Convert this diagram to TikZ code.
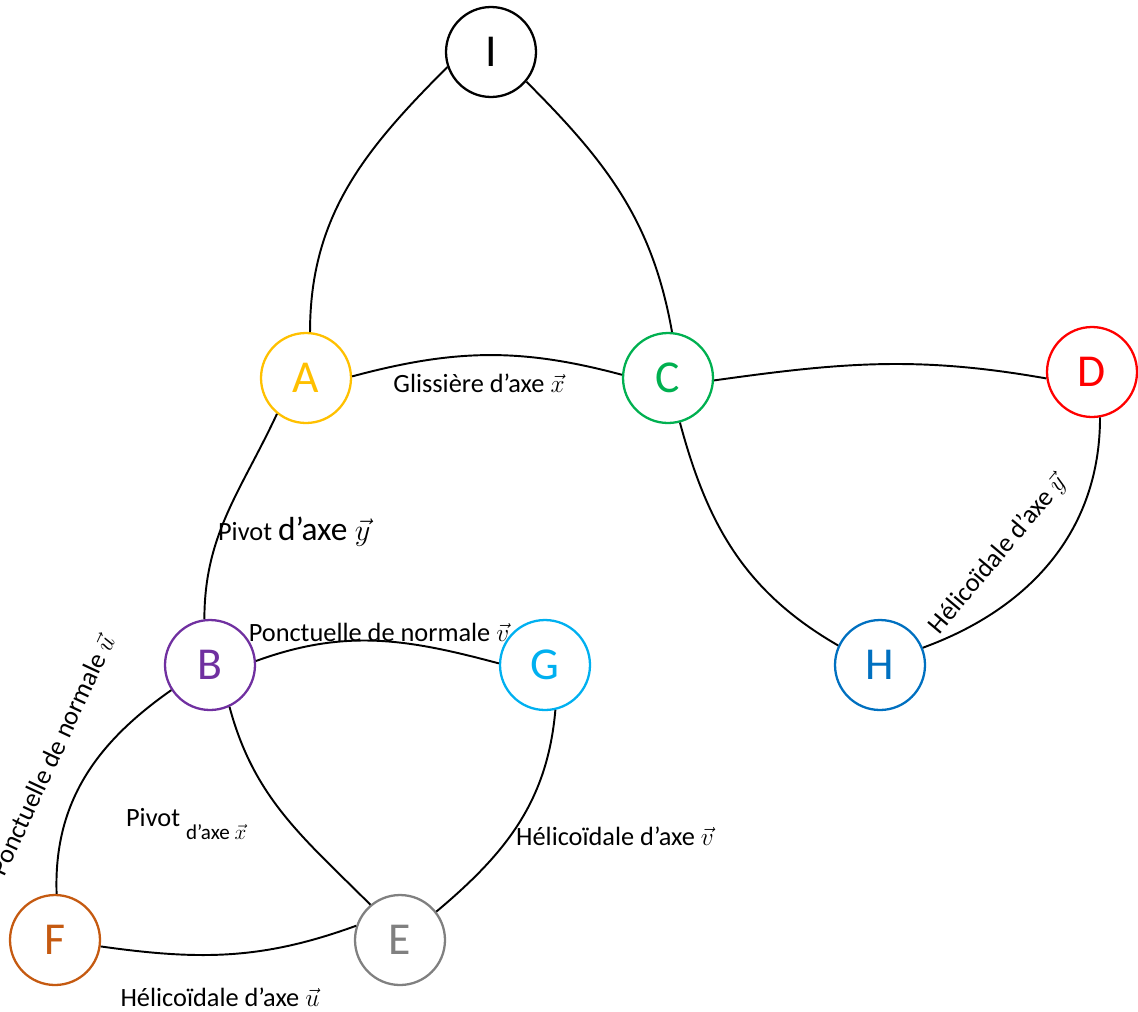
\documentclass[tikz,border=0pt]{standalone}
\usepackage{fontspec}
\setmainfont{Carlito}
\setsansfont{Carlito}
\definecolor{cA}{HTML}{FFC000}
\definecolor{cB}{HTML}{7030A0}
\definecolor{cC}{HTML}{00B050}
\definecolor{cD}{HTML}{FF0000}
\definecolor{cE}{HTML}{808080}
\definecolor{cF}{HTML}{C55A11}
\definecolor{cG}{HTML}{00B0F0}
\definecolor{cH}{HTML}{0070C0}
\begin{document}
\begin{tikzpicture}[x=0.02cm,y=0.02cm,
  part/.style={circle,draw,line width=1.3pt,minimum size=1.8cm,inner sep=0pt,font=\fontsize{26}{30}\selectfont},
  link/.style={line width=1.1pt},
  lbl/.style={font=\fontsize{15}{17}\selectfont,inner sep=1pt}]
\useasboundingbox (0,0) rectangle (1138,-1011);
\node(I) [part] at (491,-52) {I};
\node(A) [part,draw=cA,text=cA] at (306,-378) {A};
\node(C) [part,draw=cC,text=cC] at (668,-378) {C};
\node(D) [part,draw=cD,text=cD] at (1092,-372) {D};
\node(B) [part,draw=cB,text=cB] at (210,-665) {B};
\node(G) [part,draw=cG,text=cG] at (545,-665) {G};
\node(H) [part,draw=cH,text=cH] at (880,-665) {H};
\node(F) [part,draw=cF,text=cF] at (55,-940) {F};
\node(E) [part,draw=cE,text=cE] at (400,-940) {E};

\draw[link] (I.199) to[out=225,in=90] (A.85);
\draw[link] (I.-40) to[out=-45,in=100] (C.85);
\draw[link] (A.2) to[out=15,in=165] (C.176);
\draw[link] (C.-3) to[out=8,in=170] (D.188);
\draw[link] (C.-75) to[out=-75,in=150] (H.155);
\draw[link] (D.-80) to[out=-90,in=20] (H.22);
\draw[link] (A.231) to[out=-115,in=90] (B.97);
\draw[link] (B.5) to[out=20,in=165] (G.178);
\draw[link] (B.213) to[out=215,in=92] (F.88);
\draw[link] (B.-65) to[out=-75,in=135] (E.130);
\draw[link] (G.-77) to[out=-95,in=40] (E.38);
\draw[link] (F.-8) to[out=-8,in=200] (E.162);

% liaisons
\node(lAC) [lbl] at (479,-383) {Glissière d’axe $\vec{x}$};
\node(lAB) [lbl,anchor=west] at (216,-532) {Pivot {\fontsize{19}{22}\selectfont d’axe $\vec{y}$}};
\node(lBG) [lbl] at (379,-632) {Ponctuelle de normale $\vec{v}$};
\node(lBF) [lbl,rotate=65] at (52,-755) {Ponctuelle de normale $\vec{u}$};
\node(lBE) [lbl,anchor=west] at (124,-824) {Pivot \raisebox{-1.1ex}{\fontsize{12}{14}\selectfont d’axe $\vec{x}$}};
\node(lGE) [lbl] at (615,-836) {Hélicoïdale d’axe $\vec{v}$};
\node(lFE) [lbl] at (220,-997) {Hélicoïdale d’axe $\vec{u}$};
\node(lDH) [lbl,rotate=50] at (998,-555) {Hélicoïdale d’axe $\vec{y}$};
\end{tikzpicture}
\end{document}
